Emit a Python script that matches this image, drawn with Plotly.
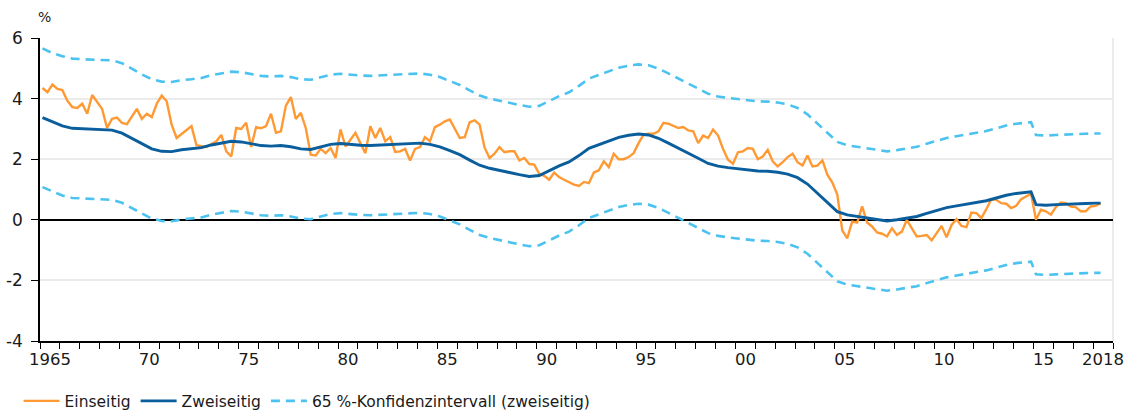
import plotly.graph_objects as go

# ---- Data -------------------------------------------------------------
# "Einseitig" (one-sided), quarterly 1965Q1 .. 2018Q2, in %
einseitig = [
    4.35, 4.21, 4.46, 4.32, 4.28, 3.93, 3.72, 3.69, 3.83, 3.50,
    4.12, 3.91, 3.66, 3.03, 3.33, 3.37, 3.20, 3.16, 3.39, 3.66,
    3.33, 3.50, 3.39, 3.83, 4.10, 3.91, 3.14, 2.70, 2.83, 2.95,
    3.09, 2.46, 2.42, 2.40, 2.50, 2.59, 2.80, 2.26, 2.09, 3.03,
    3.00, 3.20, 2.40, 3.06, 3.02, 3.09, 3.50, 2.87, 2.92, 3.77,
    4.05, 3.33, 3.53, 3.03, 2.15, 2.12, 2.34, 2.20, 2.37, 2.04,
    2.98, 2.42, 2.64, 2.87, 2.53, 2.20, 3.09, 2.70, 3.03, 2.59,
    2.73, 2.24, 2.26, 2.34, 1.96, 2.34, 2.40, 2.73, 2.59, 3.06,
    3.14, 3.25, 3.31, 2.98, 2.70, 2.73, 3.22, 3.28, 3.14, 2.38,
    2.04, 2.18, 2.40, 2.23, 2.26, 2.26, 1.96, 2.04, 1.84, 1.82,
    1.52, 1.45, 1.32, 1.56, 1.41, 1.32, 1.23, 1.16, 1.12, 1.25,
    1.21, 1.56, 1.63, 1.93, 1.74, 2.18, 2.00, 2.00, 2.07, 2.20,
    2.53, 2.81, 2.84, 2.84, 2.92, 3.20, 3.17, 3.10, 3.03, 3.06,
    2.95, 2.92, 2.53, 2.78, 2.70, 2.98, 2.78, 2.34, 1.98, 1.85,
    2.23, 2.26, 2.37, 2.34, 2.00, 2.09, 2.31, 1.93, 1.76, 1.90,
    2.07, 2.18, 1.90, 1.79, 2.12, 1.76, 1.79, 1.96, 1.49, 1.23,
    0.83, -0.35, -0.61, -0.06, -0.09, 0.44, -0.09, -0.22, -0.42, -0.46,
    -0.55, -0.28, -0.50, -0.39, 0.00, -0.28, -0.55, -0.53, -0.50, -0.68,
    -0.44, -0.20, -0.58, -0.17, 0.02, -0.20, -0.24, 0.24, 0.22, 0.06,
    0.35, 0.68, 0.66, 0.55, 0.53, 0.39, 0.46, 0.68, 0.77, 0.86,
    0.00, 0.33, 0.28, 0.17, 0.42, 0.57, 0.55, 0.44, 0.42, 0.28,
    0.28, 0.44, 0.46, 0.55,
]
start_year = 1965
einseitig_quarters = [f"{start_year + i // 4}Q{i % 4 + 1}" for i in range(len(einseitig))]

# "Zweiseitig" (two-sided) and its 65 % confidence band, half-yearly (Q1/Q3) readings
band_quarters = (
    [f"{y}Q{q}" for y in range(1965, 2014) for q in (1, 3)]
    + ["2014Q1", "2014Q3", "2014Q4", "2015Q1", "2015Q3",
       "2016Q1", "2016Q3", "2017Q1", "2017Q3", "2018Q1", "2018Q2"]
)
zweiseitig = [
    3.37, 3.24, 3.10, 3.02, 3.00, 2.99, 2.98, 2.96, 2.86, 2.68,
    2.50, 2.34, 2.26, 2.25, 2.31, 2.34, 2.38, 2.47, 2.54, 2.59,
    2.57, 2.51, 2.45, 2.43, 2.45, 2.41, 2.34, 2.32, 2.40, 2.49,
    2.52, 2.48, 2.46, 2.45, 2.47, 2.48, 2.50, 2.52, 2.53, 2.49,
    2.41, 2.28, 2.15, 1.97, 1.80, 1.70, 1.64, 1.56, 1.49, 1.43,
    1.46, 1.62, 1.78, 1.91, 2.12, 2.36, 2.48, 2.61, 2.72, 2.79,
    2.83, 2.80, 2.69, 2.53, 2.37, 2.19, 2.03, 1.86, 1.77, 1.72,
    1.68, 1.63, 1.61, 1.60, 1.57, 1.51, 1.39, 1.18, 0.88, 0.55,
    0.27, 0.16, 0.11, 0.06, 0.00, -0.04, 0.00, 0.05, 0.11, 0.21,
    0.31, 0.40, 0.46, 0.52, 0.57, 0.63, 0.72, 0.81, 0.87, 0.90,
    0.92, 0.50, 0.48, 0.50, 0.52, 0.53, 0.54, 0.55, 0.55,
]
ki_oben = [
    5.66, 5.50, 5.40, 5.32, 5.30, 5.29, 5.28, 5.26, 5.17, 4.98,
    4.80, 4.64, 4.56, 4.55, 4.61, 4.64, 4.68, 4.77, 4.84, 4.89,
    4.87, 4.81, 4.75, 4.73, 4.75, 4.71, 4.64, 4.62, 4.70, 4.79,
    4.82, 4.78, 4.76, 4.75, 4.77, 4.78, 4.80, 4.82, 4.83, 4.79,
    4.71, 4.58, 4.45, 4.27, 4.10, 4.00, 3.94, 3.86, 3.79, 3.73,
    3.76, 3.92, 4.08, 4.21, 4.42, 4.66, 4.78, 4.91, 5.02, 5.09,
    5.13, 5.10, 4.99, 4.83, 4.67, 4.49, 4.33, 4.16, 4.07, 4.02,
    3.98, 3.93, 3.91, 3.90, 3.87, 3.81, 3.69, 3.48, 3.18, 2.85,
    2.57, 2.46, 2.41, 2.36, 2.30, 2.26, 2.30, 2.35, 2.41, 2.51,
    2.61, 2.70, 2.76, 2.82, 2.87, 2.93, 3.02, 3.11, 3.17, 3.20,
    3.22, 2.80, 2.78, 2.80, 2.82, 2.83, 2.84, 2.85, 2.85,
]
ki_unten = [
    1.08, 0.94, 0.80, 0.72, 0.70, 0.69, 0.68, 0.66, 0.56, 0.38,
    0.20, 0.04, -0.04, -0.05, 0.01, 0.04, 0.08, 0.17, 0.24, 0.29,
    0.27, 0.21, 0.15, 0.13, 0.15, 0.11, 0.04, 0.02, 0.10, 0.19,
    0.22, 0.18, 0.16, 0.15, 0.17, 0.18, 0.20, 0.22, 0.23, 0.19,
    0.11, -0.02, -0.15, -0.33, -0.50, -0.60, -0.66, -0.74, -0.81, -0.87,
    -0.84, -0.68, -0.52, -0.39, -0.18, 0.06, 0.18, 0.31, 0.42, 0.49,
    0.53, 0.50, 0.39, 0.23, 0.07, -0.11, -0.27, -0.44, -0.53, -0.58,
    -0.62, -0.67, -0.69, -0.70, -0.73, -0.79, -0.91, -1.12, -1.42, -1.75,
    -2.03, -2.14, -2.19, -2.24, -2.30, -2.34, -2.30, -2.25, -2.19, -2.09,
    -1.99, -1.90, -1.84, -1.78, -1.73, -1.67, -1.58, -1.49, -1.43, -1.40,
    -1.38, -1.80, -1.82, -1.80, -1.78, -1.77, -1.76, -1.75, -1.75,
]

tick_years = [1965, 1970, 1975, 1980, 1985, 1990, 1995, 2000, 2005, 2010, 2015, 2018]
tick_labels = ["1965", "70", "75", "80", "85", "90", "95", "00", "05", "10", "15", "2018"]
y_ticks = [-4, -2, 0, 2, 4, 6]
y_tick_labels = ["-4", "-2", "0", "2", "4", "6"]


def q_to_x(q):
    """Quarter label 'YYYYQn' -> decimal year at the middle of the quarter."""
    y, n = q.split("Q")
    return int(y) + (int(n) - 0.5) / 4


x_e = [q_to_x(q) for q in einseitig_quarters]
x_b = [q_to_x(q) for q in band_quarters]

ORANGE = "#FF9933"
BLUE = "#0B5E9C"
LIGHT = "#4CC2F0"
FONT = "DejaVu Sans"

fig = go.Figure()
fig.add_trace(go.Scatter(x=x_b, y=ki_oben, mode="lines", name="65 %-Konfidenzintervall (zweiseitig)",
                         line=dict(color=LIGHT, width=2.6, dash="9px,6px"), legendgroup="ki",
                         legendrank=3))
fig.add_trace(go.Scatter(x=x_b, y=ki_unten, mode="lines", showlegend=False,
                         line=dict(color=LIGHT, width=2.6, dash="9px,6px"), legendgroup="ki"))
fig.add_trace(go.Scatter(x=x_e, y=einseitig, mode="lines", name="Einseitig",
                         line=dict(color=ORANGE, width=2.4), legendrank=1))
fig.add_trace(go.Scatter(x=x_b, y=zweiseitig, mode="lines", name="Zweiseitig",
                         line=dict(color=BLUE, width=2.9), legendrank=2))

fig.update_layout(
    width=1132, height=412,
    margin=dict(l=40, r=19, t=38, b=71, autoexpand=False),
    paper_bgcolor="white", plot_bgcolor="white",
    font=dict(family=FONT, size=15, color="#1a1a1a"),
    showlegend=True,
    legend=dict(orientation="h", x=-0.02, xanchor="left", y=-0.143, yanchor="top",
                font=dict(size=15.5), itemwidth=36, traceorder="normal",
                tracegroupgap=0, bgcolor="rgba(0,0,0,0)"),
    xaxis=dict(
        range=[1965, 2019], tickmode="array",
        tickvals=[y + 0.5 for y in tick_years], ticktext=tick_labels,
        ticks="", showgrid=False, zeroline=False, automargin=False,
        showline=True, linecolor="black", linewidth=1.5,
        tickfont=dict(size=16.5), ticklabelstandoff=2,
        minor=dict(tickmode="array", tickvals=list(range(1965, 2020)),
                   ticks="outside", ticklen=6, tickwidth=1.2, tickcolor="black",
                   showgrid=False),
    ),
    yaxis=dict(
        range=[-4, 6], tickmode="array", tickvals=y_ticks, ticktext=y_tick_labels,
        automargin=False,
        ticks="outside", ticklen=7, tickwidth=1.2, tickcolor="black",
        showline=True, linecolor="black", linewidth=1.5,
        showgrid=True, gridcolor="#EBEBEB", gridwidth=2,
        zeroline=True, zerolinecolor="black", zerolinewidth=1.5,
        tickfont=dict(size=17), ticklabelstandoff=5,
    ),
    shapes=[dict(type="line", xref="paper", yref="paper", x0=1, x1=1, y0=0, y1=1,
                 line=dict(color="#EBEBEB", width=2), layer="below")],
    annotations=[dict(text="%", xref="paper", yref="paper", x=-0.004, y=1.036,
                      xanchor="left", yanchor="bottom", showarrow=False,
                      font=dict(size=14))],
)

fig.write_html("out.html", config={"displayModeBar": False},
               post_script="document.body.style.margin='0px';")
